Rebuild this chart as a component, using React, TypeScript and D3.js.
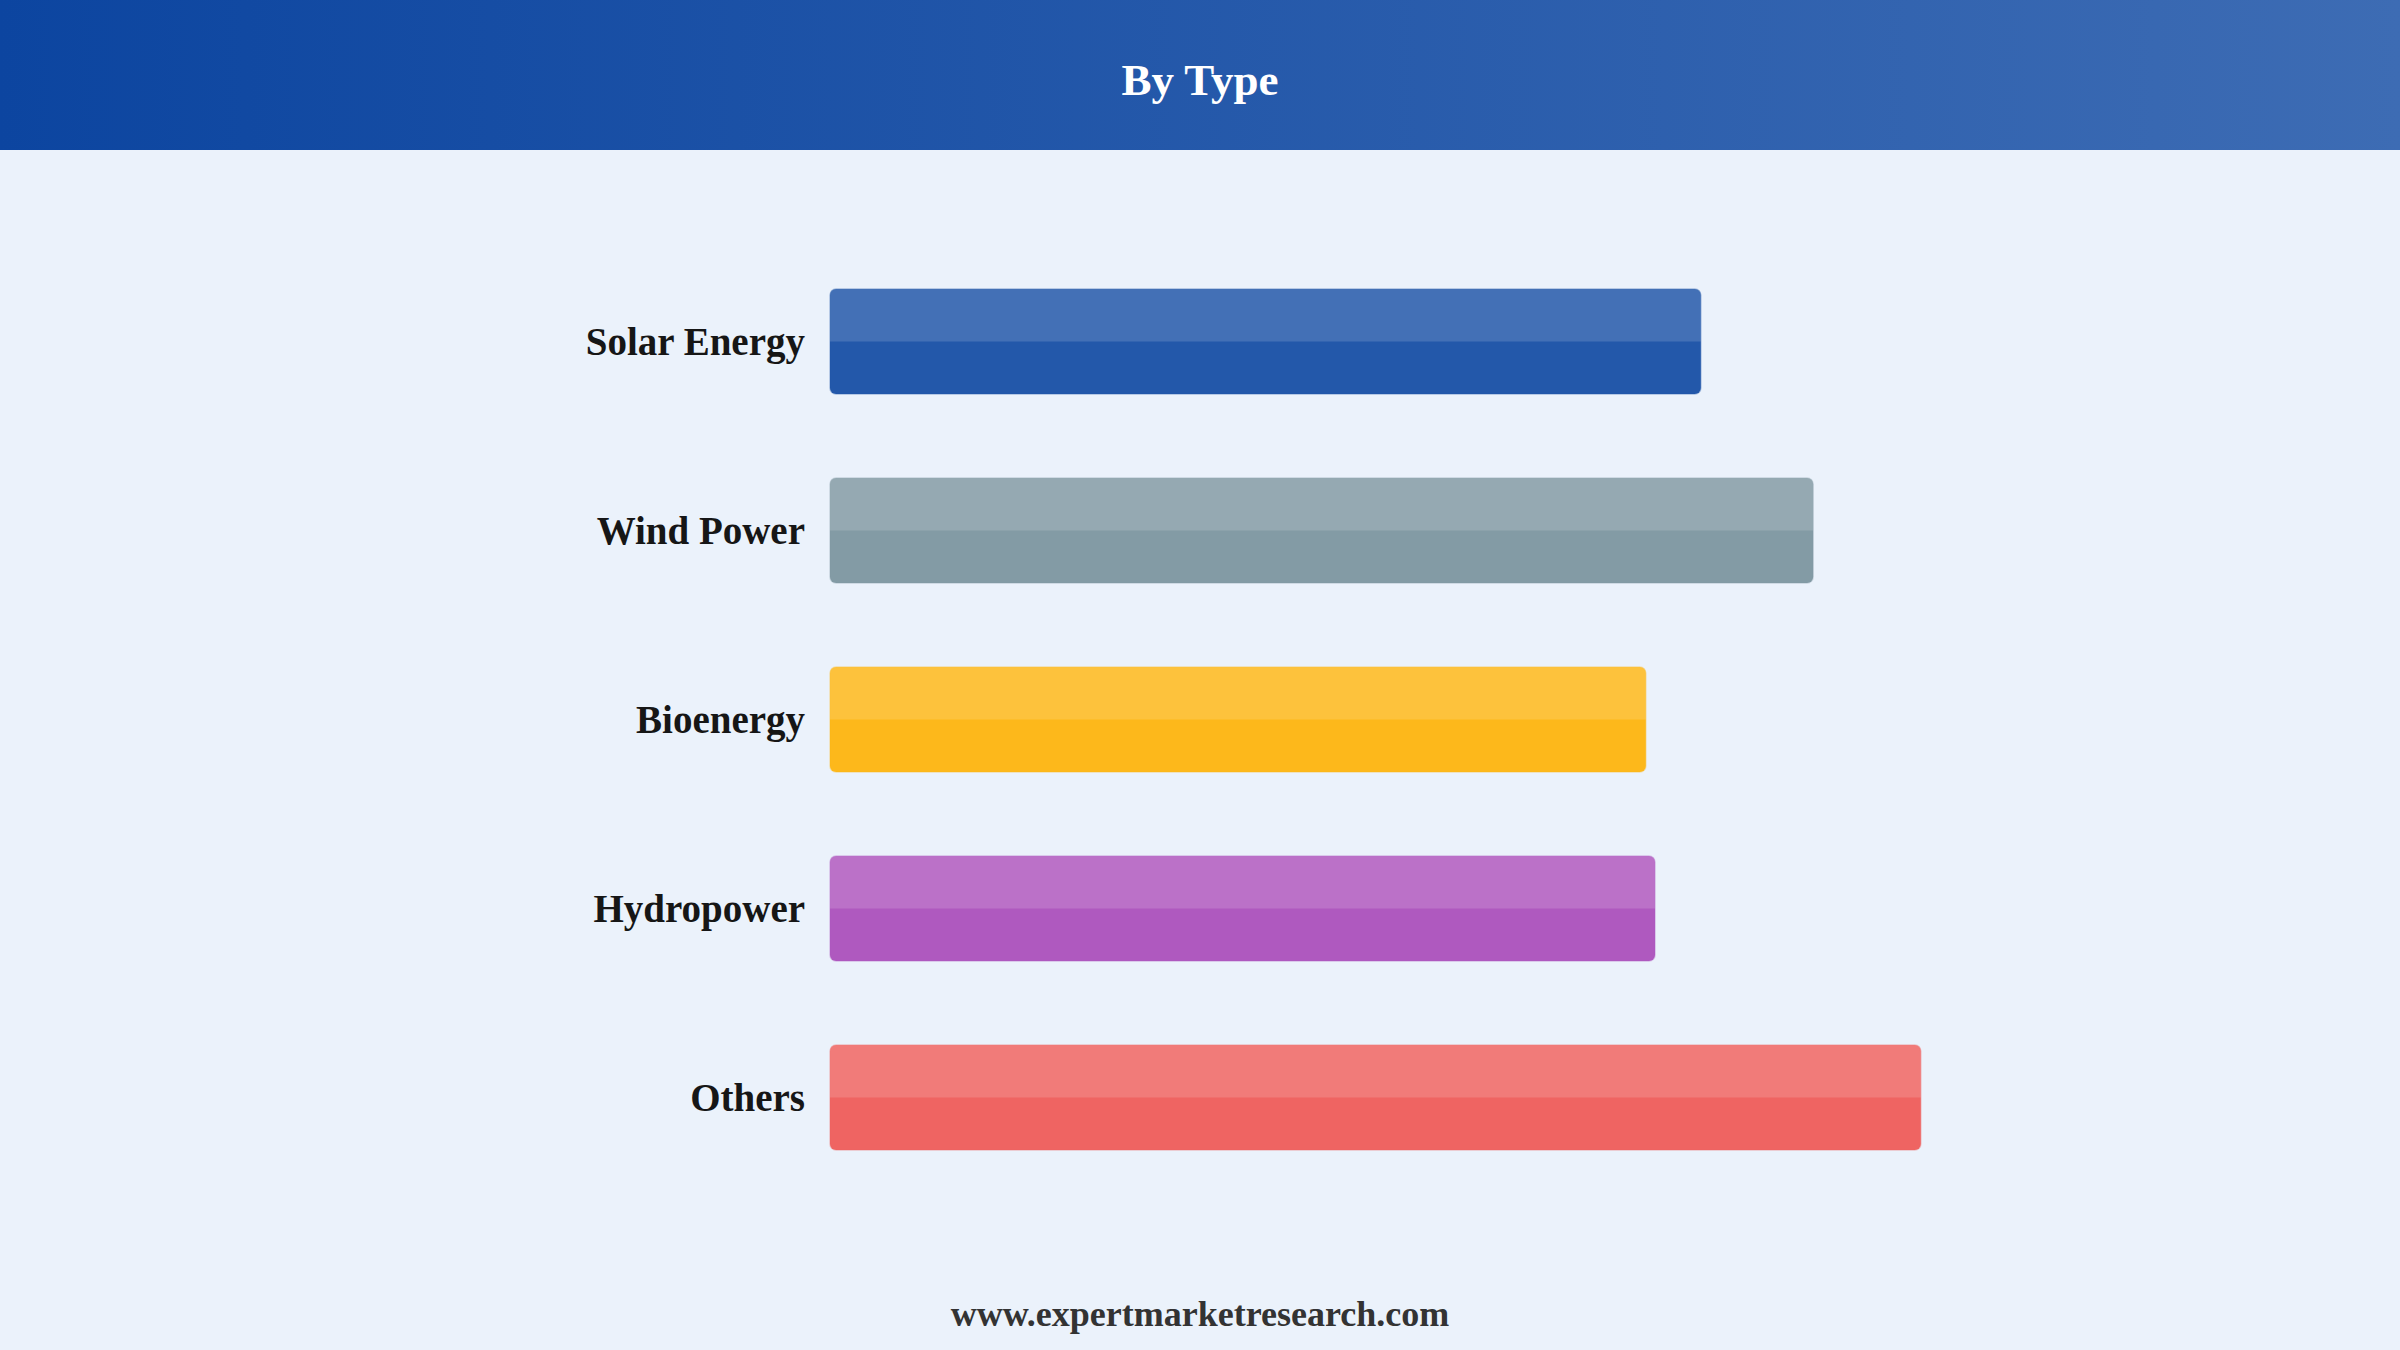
import * as d3 from "d3";

const categories = ["Solar Energy", "Wind Power", "Bioenergy", "Hydropower", "Others"];
const values = [19.0, 21.45, 17.8, 18.0, 23.8];
const colors = ["#2358aa", "#839ba5", "#fdb81b", "#af59bf", "#ef6462"];

const WIDTH = 2400;
const HEIGHT = 1350;
const HEADER_H = 150;
const FONT = "'Liberation Serif', 'Times New Roman', serif";

export default function App() {
  const x = d3.scaleLinear().domain([0, 24]).range([830, 1930]);

  const y = d3
    .scaleBand<string>()
    .domain(categories)
    .range([247, 1192])
    .paddingInner(0.444)
    .paddingOuter(0.222);

  const bh = y.bandwidth();
  const r = 6;

  // top half with rounded top corners only
  const topHalf = (x0: number, y0: number, w: number, h: number) => {
    const p = d3.path();
    p.moveTo(x0, y0 + h);
    p.lineTo(x0, y0 + r);
    p.arcTo(x0, y0, x0 + r, y0, r);
    p.lineTo(x0 + w - r, y0);
    p.arcTo(x0 + w, y0, x0 + w, y0 + r, r);
    p.lineTo(x0 + w, y0 + h);
    p.closePath();
    return p.toString();
  };

  return (
    <svg
      width={WIDTH}
      height={HEIGHT}
      viewBox={`0 0 ${WIDTH} ${HEIGHT}`}
      style={{ position: "absolute", left: 0, top: 0, display: "block" }}
    >
      <defs>
        <linearGradient id="hdr" x1="0" y1="0" x2="1" y2="0">
          <stop offset="0%" stopColor="#0c45a0" />
          <stop offset="100%" stopColor="#3d6cb4" />
        </linearGradient>
      </defs>

      {/* Background */}
      <rect x={0} y={0} width={WIDTH} height={HEIGHT} fill="#ebf2fb" />

      {/* Header */}
      <rect x={0} y={0} width={WIDTH} height={HEADER_H} fill="url(#hdr)" />
      <text
        x={WIDTH / 2}
        y={95}
        textAnchor="middle"
        fill="#ffffff"
        fontFamily={FONT}
        fontWeight="bold"
        fontSize={45}
      >
        By Type
      </text>

      {/* Bars */}
      {categories.map((c, i) => {
        const y0 = y(c) ?? 0;
        const x0 = x(0);
        const w = x(values[i]) - x0;
        return (
          <g key={c}>
            <rect
              x={x0}
              y={y0}
              width={w}
              height={bh}
              rx={r}
              fill={colors[i]}
              stroke={colors[i]}
              strokeOpacity={0.35}
              strokeWidth={1.5}
            />
            <path d={topHalf(x0, y0, w, bh / 2)} fill="#ffffff" fillOpacity={0.15} />
            <text
              x={x0 - 25}
              y={y0 + bh / 2}
              dy="0.35em"
              textAnchor="end"
              fill="#161616"
              fontFamily={FONT}
              fontWeight="bold"
              fontSize={39}
            >
              {c}
            </text>
          </g>
        );
      })}

      {/* Footer */}
      <text
        x={WIDTH / 2}
        y={1326}
        textAnchor="middle"
        fill="#333333"
        fontFamily={FONT}
        fontWeight="bold"
        fontSize={36}
      >
        www.expertmarketresearch.com
      </text>
    </svg>
  );
}
